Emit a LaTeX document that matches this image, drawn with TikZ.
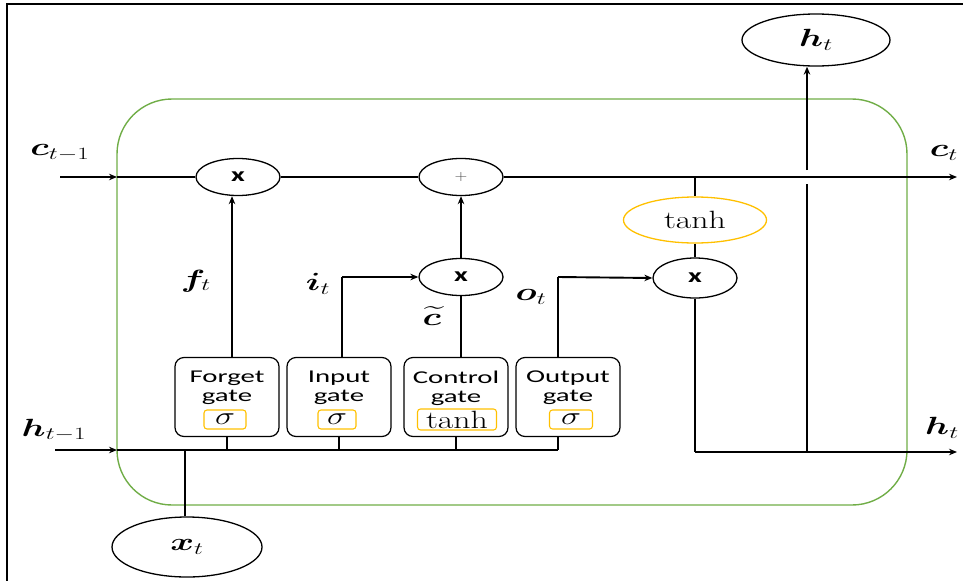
\documentclass[tikz,border=0pt]{standalone}
\usepackage{fontspec}
\usepackage{amsmath,bm,graphicx}
\usetikzlibrary{arrows.meta,shapes.geometric,calc}
\newfontfamily\gatefont{Carlito}
\definecolor{cellgreen}{RGB}{112,173,71}
\definecolor{gold}{RGB}{255,192,0}
\newcommand{\hstr}[2][1.35]{\scalebox{#1}[1]{#2}}
\newcommand{\mlab}[1]{\scalebox{1.45}[1]{#1}}
\tikzset{
  wire/.style={line width=1.9pt, black},
  arr/.style={wire, -{Stealth[length=8pt,width=6.5pt]}},
  oper/.style={ellipse, draw, line width=1.3pt, minimum width=84pt, minimum height=37pt, inner sep=0pt,
    font=\gatefont\bfseries\fontsize{20}{22}\selectfont},
  bigell/.style={ellipse, draw, line width=1.3pt, inner sep=0pt, font=\fontsize{26}{30}\selectfont},
  gatebox/.style={draw, line width=1.2pt, rounded corners=9pt, minimum width=104pt, minimum height=79pt, inner sep=0pt},
  gtext/.style={align=center, inner sep=0pt, font=\gatefont\fontsize{18}{19}\selectfont},
  sigbox/.style={draw=gold, line width=1.1pt, rounded corners=3pt, minimum height=19pt, inner sep=0pt, font=\fontsize{25}{25}\selectfont},
  lbl/.style={inner sep=0pt, font=\fontsize{26}{30}\selectfont},
  cellbox/.style={draw=cellgreen, line width=1.4pt, rounded corners=55pt, minimum width=790pt, minimum height=406pt, inner sep=0pt},
}
\begin{document}
\begin{tikzpicture}[x=1pt,y=-1pt]
\useasboundingbox (0,0) rectangle (963,581);
% frame (top and left edges)
\coordinate (frtl) at (7,4);
\coordinate (frtr) at (963,4);
\coordinate (frbl) at (7,581);
\draw[line width=1.8pt] (frtr) -- (frtl) -- (frbl);
% cell
\node[cellbox] (cell) at (512,302) {};
% operators
\node[oper] (fm) at (238,177) {\hstr[1.5]{x}};
\node[oper, font=\fontsize{14}{14}\selectfont\color{black!70}] (pl) at (461,177) {\hstr[1.2]{+}};
\node[oper] (cm) at (461,277) {\hstr[1.5]{x}};
\node[oper, minimum height=40pt] (om) at (695,278) {\hstr[1.5]{x}};
\node[ellipse, draw=gold, line width=1.3pt, minimum width=143pt, minimum height=46pt, inner sep=0pt, font=\fontsize{25}{28}\selectfont] (th) at (695,220) {\hstr{$\tanh$}};
% big ellipses
\node[bigell, minimum width=148pt, minimum height=52pt] (ht) at (816,40) {\mlab{$\bm{h}_t$}};
\node[bigell, minimum width=150pt, minimum height=60pt] (xt) at (187,547) {\mlab{$\bm{x}_t$}};
% gates
\node[gatebox] (fg) at (227,397) {};
\node[gatebox] (ig) at (339,397) {};
\node[gatebox] (cg) at (456,397) {};
\node[gatebox] (og) at (568,397) {};
\node[gtext] (fgt) at (227,388) {\hstr[1.6]{Forget}\\\hstr[1.6]{gate}};
\node[gtext] (igt) at (339,388) {\hstr[1.6]{Input}\\\hstr[1.6]{gate}};
\node[gtext] (cgt) at (456,388) {\hstr[1.6]{Control}\\\hstr[1.6]{gate}};
\node[gtext] (ogt) at (568,388) {\hstr[1.6]{Output}\\\hstr[1.6]{gate}};
\node[sigbox, minimum width=42pt] (fs) at (225,419.5) {\hstr{$\sigma$}};
\node[sigbox, minimum width=38pt] (is) at (337,419.5) {\hstr{$\sigma$}};
\node[sigbox, minimum width=79pt, minimum height=21pt] (cs) at (457,419.5) {\hstr{$\tanh$}};
\node[sigbox, minimum width=43pt] (os) at (571,419.5) {\hstr{$\sigma$}};
% labels
\node[lbl] (lc0) at (60,153) {\mlab{$\bm{c}_{t-1}$}};
\node[lbl] (lc1) at (944,153) {\mlab{$\bm{c}_t$}};
\node[lbl] (lh0) at (54,430) {\mlab{$\bm{h}_{t-1}$}};
\node[lbl] (lh1) at (942,428) {\mlab{$\bm{h}_t$}};
\node[lbl] (lf) at (196,281) {\mlab{$\bm{f}_t$}};
\node[lbl] (li) at (318,284) {\mlab{$\bm{i}_t$}};
\node[lbl] (lct) at (432,316) {\mlab{$\widetilde{\bm{c}}$}};
\node[lbl] (lo) at (531,297) {\mlab{$\bm{o}_t$}};
% coordinates
\coordinate (cin) at (60,177);
\coordinate (cl) at (117,177);
\coordinate (cout) at (957,177);
\coordinate (tj) at (695,177);
\coordinate (hin) at (55,450);
\coordinate (bl) at (117,450);
\coordinate (busend) at (558,450);
\coordinate (hb) at (695,452);
\coordinate (hout) at (957,452);
\coordinate (hv) at (807,452);
\coordinate (gapb) at (807,184);
\coordinate (gapt) at (807,170);
\coordinate (fx) at (232,0);
\coordinate (ix) at (342,0);
\coordinate (ox) at (558,0);
\coordinate (icorner) at (342,277);
\coordinate (ocorner) at (558,277);
\coordinate (xj) at (185,450);
\coordinate (fb) at (227,450);
\coordinate (ib) at (339,450);
\coordinate (cb) at (456,450);
% cell state line
\draw[arr] (cin) -- (cl);
\draw[wire] (cl) -- (fm);
\draw[wire] (fm) -- (pl);
\draw[arr] (pl) -- (cout);
\draw[wire] (tj) -- (th);
\draw[wire] (th) -- (om);
% gates to operators
\draw[arr] (fg.north -| fx) -- (fx |- fm.south);
\draw[wire] (ig.north -| ix) -- (icorner);
\draw[arr] (icorner) -- (cm.west);
\draw[wire] (cg.north -| cm.south) -- (cm.south);
\draw[arr] (cm.north) -- (pl.south);
\draw[wire] (og.north -| ox) -- (ocorner);
\draw[arr] (ocorner) -- (om.west);
% hidden output
\draw[wire] (om.south) -- (hb);
\draw[arr] (hb) -- (hout);
\draw[wire] (hv) -- (gapb);
\draw[arr] (gapt) -- (gapt |- ht.south);
% input bus
\draw[arr] (hin) -- (bl);
\draw[wire] (bl) -- (busend);
\draw[wire] (fg.south) -- (fb);
\draw[wire] (ig.south) -- (ib);
\draw[wire] (cg.south) -- (cb);
\draw[wire] (og.south -| ox) -- (busend);
\draw[wire] (xt.north -| xj) -- (xj);
\end{tikzpicture}
\end{document}
